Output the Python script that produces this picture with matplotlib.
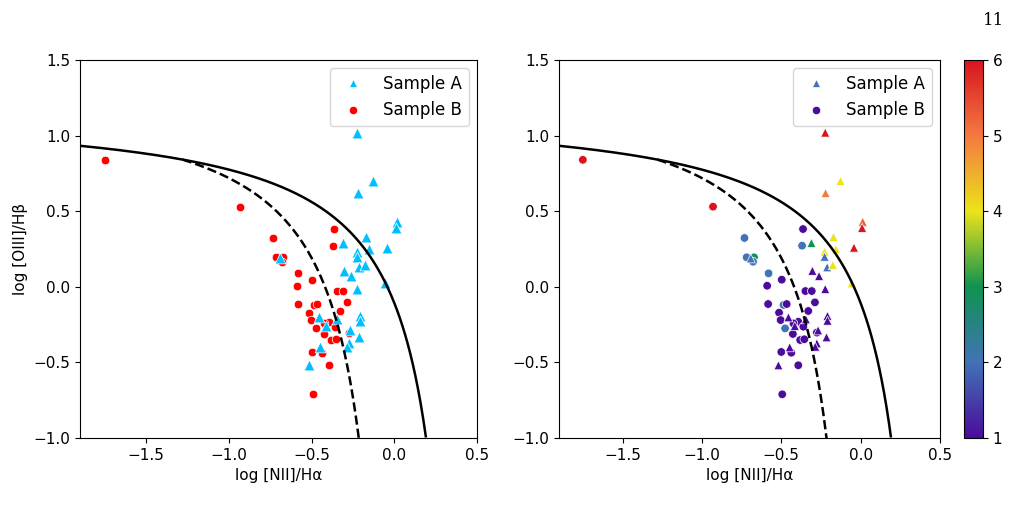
import numpy as np
import matplotlib.pyplot as plt
from matplotlib.colors import LinearSegmentedColormap, Normalize
from matplotlib.lines import Line2D

# Sample A (triangles): log [NII]/Ha, log [OIII]/Hb, colour value
a_x = [-0.223, -0.127, -0.221, 0.013, 0.009, -0.31, -0.171, -0.227, -0.227, -0.155,
       -0.042, -0.304, -0.262, -0.211, -0.175, -0.223, -0.056, -0.455, -0.415, -0.345,
       -0.209, -0.209, -0.268, -0.215, -0.276, -0.286, -0.447, -0.518, -0.692]
a_y = [1.02, 0.70, 0.62, 0.43, 0.39, 0.29, 0.33, 0.232, 0.199, 0.248,
       0.259, 0.106, 0.071, 0.129, 0.144, -0.015, 0.023, -0.202, -0.259, -0.215,
       -0.193, -0.224, -0.288, -0.334, -0.374, -0.396, -0.40, -0.519, 0.188]
a_c = [6, 4, 5, 5.2, 6, 3, 4, 4, 2, 4,
       6, 1, 1, 2, 4, 1, 4, 1, 1, 1,
       1, 1, 1, 1, 1, 1, 1, 1, 2]

# Sample B (circles)
b_x = [-1.75, -0.93, -0.732, -0.718, -0.672, -0.678, -0.58, -0.589, -0.497, -0.583,
       -0.363, -0.369, -0.348, -0.308, -0.486, -0.466, -0.288, -0.514, -0.33, -0.504,
       -0.393, -0.476, -0.423, -0.361, -0.427, -0.276, -0.381, -0.355, -0.50, -0.437,
       -0.393, -0.494]
b_y = [0.84, 0.53, 0.323, 0.195, 0.195, 0.166, 0.089, 0.007, 0.047, -0.114,
       0.382, 0.272, -0.028, -0.028, -0.12, -0.114, -0.103, -0.171, -0.16, -0.22,
       -0.231, -0.275, -0.242, -0.264, -0.312, -0.303, -0.352, -0.347, -0.431, -0.436,
       -0.519, -0.711]
b_c = [6, 6, 2, 2, 3, 2, 2, 1, 1, 1,
       1, 2, 1, 1, 2, 1, 1, 1, 1, 1,
       1, 2, 1, 1, 1, 1, 1, 1, 1, 1,
       1, 1]

cmap = LinearSegmentedColormap.from_list(
    'bpt', [(0.0, '#4b0c9c'), (0.2, '#4173b6'), (0.4, '#0e9350'),
            (0.6, '#ece31a'), (0.8, '#f47a40'), (1.0, '#d9141f')])
norm = Normalize(1, 6)

# demarcation curves (Kewley 2001 solid, Kauffmann 2003 dashed)
xk = np.linspace(-1.9, 0.19, 400)
yk = 0.61 / (xk - 0.47) + 1.19
xf = np.linspace(-1.28, -0.215, 300)
yf = 0.61 / (xf - 0.05) + 1.3

fig = plt.figure(figsize=(10.22, 5.2), dpi=100)
ax1 = fig.add_axes([0.0783, 0.1577, 0.3885, 0.7269])
ax2 = fig.add_axes([0.547, 0.1577, 0.3728, 0.7269])
cax = fig.add_axes([0.9433, 0.1577, 0.0183, 0.7269])

for ax in (ax1, ax2):
    ax.plot(xk, yk, 'k-', lw=1.8)
    ax.plot(xf, yf, 'k--', lw=1.8)
    ax.set_xlim(-1.9, 0.5)
    ax.set_ylim(-1.0, 1.5)
    ax.set_xticks([-1.5, -1.0, -0.5, 0.0, 0.5])
    ax.set_yticks([-1.0, -0.5, 0.0, 0.5, 1.0, 1.5])
    ax.tick_params(labelsize=11)
    ax.set_xlabel('log [NII]/H\u03b1', fontsize=11)

ax1.set_ylabel('log [OIII]/H\u03b2', fontsize=11)

# left: plain colours
ax1.scatter(b_x, b_y, s=38, c='red', marker='o', edgecolors='white', linewidths=0.5)
ax1.scatter(a_x, a_y, s=60, c='#00bfff', marker='^', edgecolors='white', linewidths=0.5)
h1 = [Line2D([], [], ls='', marker='^', color='#00bfff', ms=6, mec='white', mew=0.5),
      Line2D([], [], ls='', marker='o', color='red', ms=6, mec='white', mew=0.5)]
ax1.legend(h1, ['Sample A', 'Sample B'], loc='upper right', fontsize=12)

# right: coloured by value
ax2.scatter(b_x, b_y, s=38, c=b_c, cmap=cmap, norm=norm, marker='o',
            edgecolors='white', linewidths=0.5)
ax2.scatter(a_x, a_y, s=42, c=a_c, cmap=cmap, norm=norm, marker='^',
            edgecolors='white', linewidths=0.5)
h2 = [Line2D([], [], ls='', marker='^', color=cmap(norm(2)), ms=6, mec='white', mew=0.5),
      Line2D([], [], ls='', marker='o', color=cmap(norm(1)), ms=6, mec='white', mew=0.5)]
ax2.legend(h2, ['Sample A', 'Sample B'], loc='upper right', fontsize=12)

sm = plt.cm.ScalarMappable(cmap=cmap, norm=norm)
cb = fig.colorbar(sm, cax=cax)
cb.set_ticks([1, 2, 3, 4, 5, 6])
cb.ax.tick_params(labelsize=11)

fig.text(0.983, 0.977, '11', ha='right', va='top', fontsize=12, family='DejaVu Serif')

fig.savefig('out.png', dpi=100)
